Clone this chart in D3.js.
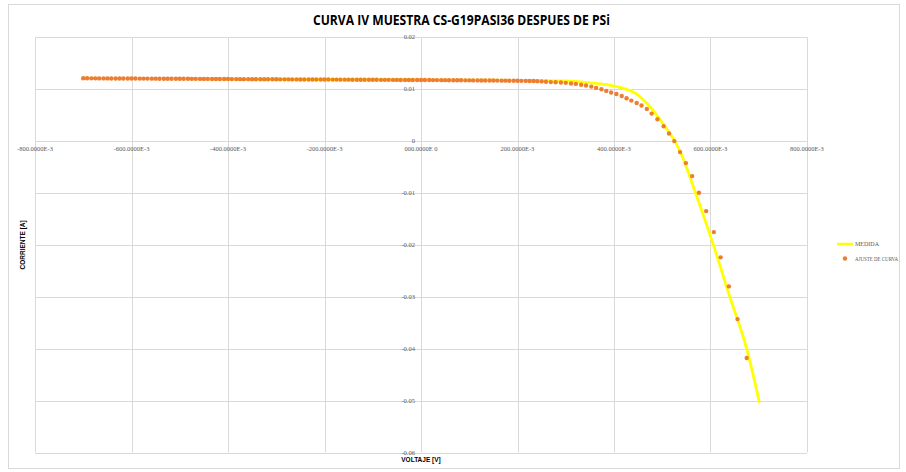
<!DOCTYPE html>
<html><head><meta charset="utf-8">
<script src="https://cdn.jsdelivr.net/npm/d3@7"></script>
<style>body{margin:0;background:#fff}svg{display:block}</style>
</head><body>
<svg id="c" width="906" height="472"></svg>
<script>
const title = "CURVA IV MUESTRA CS-G19PASI36 DESPUES DE PSi";
const xTitle = "VOLTAJE [V]";
const yTitle = "CORRIENTE [A]";
const seriesNames = ["MEDIDA", "AJUSTE DE CURVA"];
const xTicks = [-0.8, -0.6, -0.4, -0.2, 0, 0.2, 0.4, 0.6, 0.8];
const xTickLabels = ["-800.0000E-3","-600.0000E-3","-400.0000E-3","-200.0000E-3","000.0000E 0","200.0000E-3","400.0000E-3","600.0000E-3","800.0000E-3"];
const yTicks = [0.02, 0.01, 0, -0.01, -0.02, -0.03, -0.04, -0.05, -0.06];
const yTickLabels = ["0.02","0.01","0","-0.01","-0.02","-0.03","-0.04","-0.05","-0.06"];

// MEDIDA (measured) line
const medV = [-0.70,-0.60,-0.50,-0.40,-0.30,-0.20,-0.10,0.00,0.10,0.20,0.25,0.30,0.33,0.355,0.385,0.406,0.426,0.439,0.454,0.468,0.4885,0.506,0.526,0.539,0.569,0.606,0.640,0.675,0.701];
const medI = [0.01212,0.01207,0.01202,0.01197,0.01192,0.01187,0.01182,0.01178,0.01174,0.01170,0.01166,0.01158,0.01140,0.01118,0.01087,0.01048,0.00998,0.00950,0.00855,0.00730,0.00500,0.00277,0.00000,-0.00240,-0.01000,-0.02000,-0.03000,-0.04000,-0.05020];

// AJUSTE DE CURVA (fit) points, voltage in mV
const fitV = [-700,-692,-683,-675,-667,-658,-650,-642,-633,-625,
-617,-608,-600,-592,-583,-575,-567,-558,-550,-542,
-533,-525,-517,-508,-500,-492,-483,-475,-467,-458,
-450,-442,-433,-425,-417,-408,-400,-392,-383,-375,
-367,-358,-350,-342,-333,-325,-317,-308,-300,-292,
-283,-275,-267,-258,-250,-242,-233,-225,-217,-208,
-200,-192,-183,-175,-167,-158,-150,-142,-133,-125,
-117,-108,-100,-92,-83,-75,-67,-58,-50,-42,
-33,-25,-17,-8,0,8,17,25,33,42,
50,58,67,75,83,92,100,108,117,125,
133,142,150,158,167,175,183,192,200,208,
217,225,233,241,
250,259,269,279,290,300,311,321,332,342,
353,363,374,384,394,405,416,426,436,447,
457,468,478,490,503,514,525,537,549,562,
576,591,607,621,638,656,675];
const fitI = [0.01210,0.01210,0.01209,0.01209,0.01208,0.01208,0.01208,0.01207,0.01207,0.01206,
0.01206,0.01206,0.01205,0.01205,0.01204,0.01204,0.01204,0.01203,0.01203,0.01202,
0.01202,0.01202,0.01201,0.01201,0.01200,0.01200,0.01200,0.01199,0.01199,0.01198,
0.01198,0.01198,0.01197,0.01197,0.01196,0.01196,0.01196,0.01195,0.01195,0.01194,
0.01194,0.01194,0.01193,0.01193,0.01192,0.01192,0.01192,0.01191,0.01191,0.01190,
0.01190,0.01190,0.01189,0.01189,0.01188,0.01188,0.01188,0.01187,0.01187,0.01186,
0.01186,0.01186,0.01185,0.01185,0.01184,0.01184,0.01184,0.01183,0.01183,0.01182,
0.01182,0.01182,0.01181,0.01181,0.01180,0.01180,0.01180,0.01179,0.01179,0.01178,
0.01178,0.01178,0.01177,0.01177,0.01176,0.01176,0.01176,0.01175,0.01175,0.01174,
0.01174,0.01173,0.01173,0.01172,0.01172,0.01171,0.01171,0.01170,0.01170,0.01169,
0.01168,0.01168,0.01167,0.01166,0.01165,0.01165,0.01164,0.01163,0.01162,0.01161,
0.01160,0.01159,0.01157,0.01155,
0.01150,0.01143,0.01137,0.01133,0.01128,0.01122,0.01111,0.01102,0.01087,0.01072,
0.01050,0.01025,0.00998,0.00967,0.00937,0.00907,0.00870,0.00825,0.00780,0.00735,
0.00685,0.00620,0.00530,0.00420,0.00285,0.00145,0.00000,-0.00212,-0.00424,-0.00674,
-0.00996,-0.01349,-0.01753,-0.02240,-0.02800,-0.03430,-0.04180];

const svg = d3.select("#c");
const L = 35, R = 807, T = 37.3, B = 452.5;
const x = d3.scaleLinear().domain([-0.8, 0.8]).range([L, R]);
const y = d3.scaleLinear().domain([-0.06, 0.02]).range([B, T]);

svg.append("rect").attr("x",8.5).attr("y",4.5).attr("width",891).attr("height",464)
  .attr("fill","#fff").attr("stroke","#d9d9d9");

const grid = svg.append("g").attr("stroke","#d9d9d9").attr("stroke-width",1);
grid.selectAll("line.v").data(xTicks).join("line")
  .attr("x1",d=>Math.round(x(d))+0.5).attr("x2",d=>Math.round(x(d))+0.5)
  .attr("y1",T).attr("y2",B);
grid.selectAll("line.h").data(yTicks).join("line")
  .attr("y1",d=>Math.round(y(d))+0.5).attr("y2",d=>Math.round(y(d))+0.5)
  .attr("x1",L).attr("x2",R);

const tickFont = "'Liberation Serif', 'DejaVu Serif', serif";
svg.append("g").selectAll("text").data(xTicks).join("text")
  .attr("x",d=>x(d)).attr("y",y(0)+10)
  .attr("text-anchor","middle").attr("font-family",tickFont).attr("font-size","6.5px")
  .attr("fill","#595959").text((d,i)=>xTickLabels[i]);
svg.append("g").selectAll("text").data(yTicks).join("text")
  .attr("x",x(0)-6).attr("y",d=>y(d)+2)
  .attr("text-anchor","end").attr("font-family",tickFont).attr("font-size","6.5px")
  .attr("fill","#595959").text((d,i)=>yTickLabels[i]);

// measured line
const medData = medV.map((v,i)=>[v, medI[i]]);
svg.append("path").datum(medData)
  .attr("fill","none").attr("stroke","#FFFF00").attr("stroke-width",2.8)
  .attr("stroke-linejoin","round").attr("stroke-linecap","round")
  .attr("d", d3.line().x(d=>x(d[0])).y(d=>y(d[1])).curve(d3.curveMonotoneX));

// fit points
const fitData = fitV.map((v,i)=>[v/1000, fitI[i]]);
svg.append("g").selectAll("circle").data(fitData).join("circle")
  .attr("cx",d=>x(d[0])).attr("cy",d=>y(d[1])).attr("r",2.2)
  .attr("fill","#ED7D31");

// titles
svg.append("text").attr("x",461.5).attr("y",25).attr("text-anchor","middle")
  .attr("font-family","'Open Sans', 'Liberation Sans', sans-serif").attr("font-weight","bold")
  .attr("font-size","15px").attr("fill","#000")
  .attr("textLength",297).attr("lengthAdjust","spacingAndGlyphs").text(title);
svg.append("text").attr("x",(L+R)/2).attr("y",462).attr("text-anchor","middle")
  .attr("font-family","'Liberation Sans', sans-serif").attr("font-weight","bold")
  .attr("font-size","6.5px").attr("fill","#000").text(xTitle);
svg.append("text").attr("transform",`translate(25,${(T+B)/2}) rotate(-90)`).attr("text-anchor","middle")
  .attr("font-family","'Liberation Sans', sans-serif").attr("font-weight","bold")
  .attr("font-size","6.5px").attr("fill","#000").text(yTitle);

// legend
const lg = svg.append("g");
lg.append("line").attr("x1",837).attr("x2",853).attr("y1",244).attr("y2",244)
  .attr("stroke","#FFFF00").attr("stroke-width",2.5);
lg.append("circle").attr("cx",845).attr("cy",258.5).attr("r",2.2).attr("fill","#ED7D31");
lg.selectAll("text").data(seriesNames).join("text")
  .attr("x",855).attr("y",(d,i)=>246+i*14.5)
  .attr("font-family","'Liberation Serif', serif").attr("font-size","5.6px")
  .attr("fill","#595959")
  .attr("textLength",(d,i)=>i===0?24:43).attr("lengthAdjust","spacingAndGlyphs")
  .text(d=>d);
</script>
</body></html>
